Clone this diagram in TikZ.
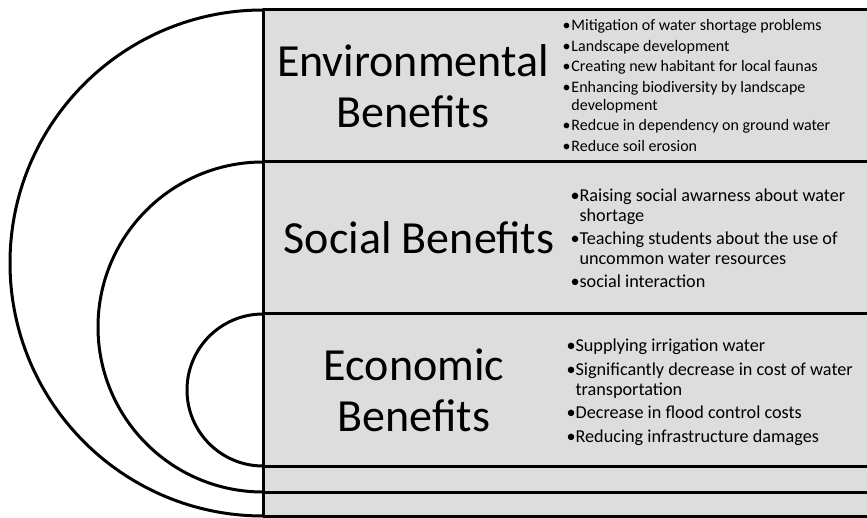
\documentclass[tikz,border=0pt]{standalone}
\usepackage{fontspec}
\setmainfont{Carlito}
\definecolor{panelgray}{RGB}{221,221,221}
\newcommand{\pointlist}[2]{\begin{tabular}{@{}l@{\hspace{#1}}l@{}}#2\end{tabular}}
\tikzset{
	title/.style={align=center, inner sep=0pt, font=\fontsize{46}{51}\selectfont},
	points/.style={anchor=west, inner sep=0pt},
}
\begin{document}
\begin{tikzpicture}[x=1pt, y=-1pt, line width=3pt]
	\useasboundingbox (0,0) rectangle (867,518);
	%gray panel
	\fill[panelgray] (263,10) rectangle (867,516);
	%rows
	\foreach \y in {10,162,314,466,492,516}
		\draw (263,\y) -- (867,\y);
	\draw (263,10) -- (263,516);
	%half circles
	\draw (263,10) arc[start angle=270, end angle=90, radius=253];
	\draw (263,162) arc[start angle=270, end angle=90, radius=165];
	\draw (263,314) arc[start angle=270, end angle=90, radius=76];
	
	%titles
	\node[title] (envtitle) at (413,86) {Environmental\\Benefits};
	\node[title] (soctitle) at (419,238) {Social Benefits};
	\node[title] (ecotitle) at (414,390) {Economic\\Benefits};
	
	%benefit points
	\node[points, font=\fontsize{16}{18}\selectfont] (envlist) at (561,87.5) {\pointlist{1pt}{
		\textbullet & Mitigation of water shortage problems\\[2.5pt]
		\textbullet & Landscape development\\[2.5pt]
		\textbullet & Creating new habitant for local faunas\\[2.5pt]
		\textbullet & Enhancing biodiversity by landscape\\
		 & development\\[2.5pt]
		\textbullet & Redcue in dependency on ground water\\[2.5pt]
		\textbullet & Reduce soil erosion}};
	\node[points, font=\fontsize{18.2}{20}\selectfont] (soclist) at (569,241) {\pointlist{0pt}{
		\textbullet & Raising social awarness about water\\
		 & shortage\\[3pt]
		\textbullet & Teaching students about the use of\\
		 & uncommon water resources\\[3pt]
		\textbullet & social interaction}};
	\node[points, font=\fontsize{18.2}{20}\selectfont] (ecolist) at (565,393) {\pointlist{0pt}{
		\textbullet & Supplying irrigation water\\[3.5pt]
		\textbullet & Significantly decrease in cost of water\\
		 & transportation\\[3.5pt]
		\textbullet & Decrease in flood control costs\\[3.5pt]
		\textbullet & Reducing infrastructure damages}};
\end{tikzpicture}
\end{document}
